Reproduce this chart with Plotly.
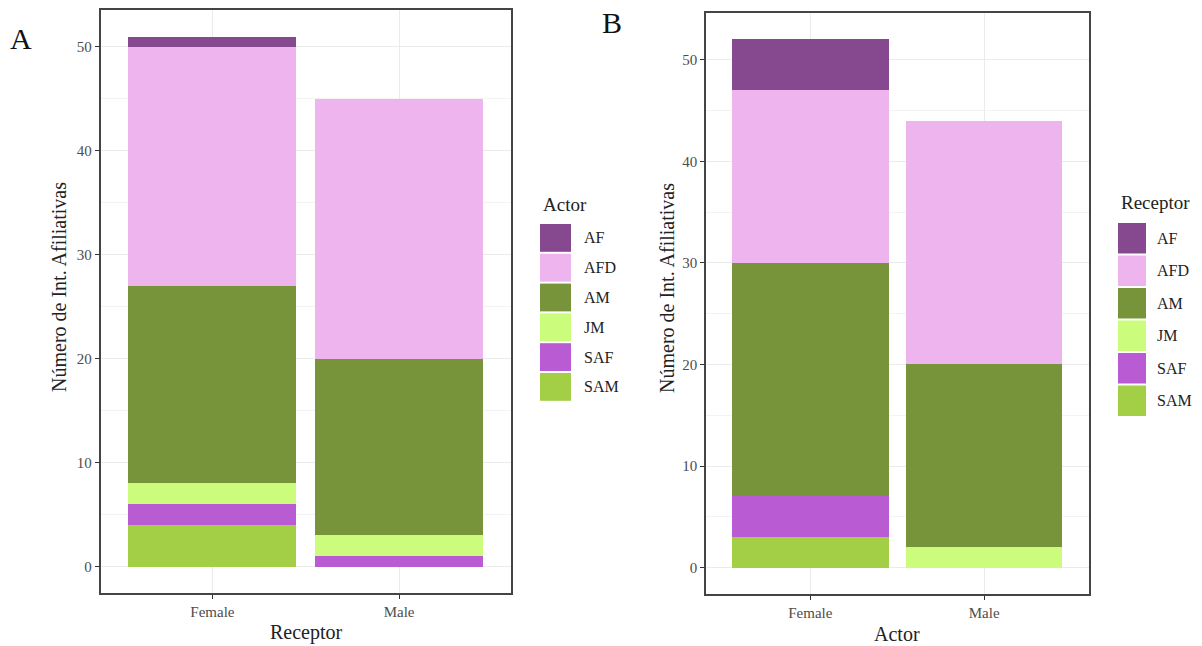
import plotly.graph_objects as go

W, H = 1202, 646

categories = ["Female", "Male"]
groups = ["AF", "AFD", "AM", "JM", "SAF", "SAM"]
colors = {"AF": "#86498f", "AFD": "#eeb4ed", "AM": "#77943a",
          "JM": "#ccfc7b", "SAF": "#b95bd2", "SAM": "#a3cf46"}

# Panel A: x = Receptor, fill = Actor
a_AF = [1, 0]
a_AFD = [23, 25]
a_AM = [19, 17]
a_JM = [2, 2]
a_SAF = [2, 1]
a_SAM = [4, 0]

# Panel B: x = Actor, fill = Receptor
b_AF = [5, 0]
b_AFD = [17, 24]
b_AM = [23, 18]
b_JM = [0, 2]
b_SAF = [4, 0]
b_SAM = [3, 0]

panelA = {"AF": a_AF, "AFD": a_AFD, "AM": a_AM, "JM": a_JM, "SAF": a_SAF, "SAM": a_SAM}
panelB = {"AF": b_AF, "AFD": b_AFD, "AM": b_AM, "JM": b_JM, "SAF": b_SAF, "SAM": b_SAM}

y_ticks = [0, 10, 20, 30, 40, 50]

FONT = "Liberation Serif"

def px_x(p):
    return p / W

def px_y(p):
    return 1 - p / H

fig = go.Figure()

stack_order = ["SAM", "SAF", "JM", "AM", "AFD", "AF"]
for g in stack_order:
    fig.add_trace(go.Bar(x=categories, y=panelA[g], name=g, marker_color=colors[g],
                         marker_line_width=0, width=0.9, showlegend=False,
                         xaxis="x", yaxis="y"))
for g in stack_order:
    fig.add_trace(go.Bar(x=categories, y=panelB[g], name=g, marker_color=colors[g],
                         marker_line_width=0, width=0.9, showlegend=False,
                         xaxis="x2", yaxis="y2"))

def yax(domain, total, anchor):
    pad = 0.05 * total
    return dict(domain=domain, range=[-pad, total + pad], anchor=anchor,
                tickvals=y_ticks, showgrid=True, gridcolor="#ebebeb", gridwidth=1,
                minor=dict(dtick=5, tick0=0, showgrid=True, gridcolor="#f3f3f3", gridwidth=0.6, ticks=""),
                zeroline=False, showline=True, mirror=True, linecolor="#444444", linewidth=1.5,
                ticks="outside", ticklen=4, tickcolor="#333", tickwidth=1,
                tickfont=dict(family=FONT, size=15, color="#4d4d4d"))

def xax(domain, anchor):
    return dict(domain=domain, range=[-0.6, 1.6], anchor=anchor, type="category",
                showgrid=True, gridcolor="#ebebeb", gridwidth=1,
                zeroline=False, showline=True, mirror=True, linecolor="#444444", linewidth=1.5,
                ticks="outside", ticklen=4, tickcolor="#333", tickwidth=1,
                tickfont=dict(family=FONT, size=15, color="#4d4d4d"))

totA = sum(panelA[g][0] for g in groups)
totB = sum(panelB[g][0] for g in groups)

fig.update_layout(
    width=W, height=H, barmode="stack", bargap=0.1,
    margin=dict(l=0, r=0, t=0, b=0),
    paper_bgcolor="white", plot_bgcolor="white",
    font=dict(family=FONT, color="#222"),
    xaxis=xax([px_x(100.5), px_x(511)], "y"),
    yaxis=yax([px_y(593), px_y(10)], totA, "x"),
    xaxis2=xax([px_x(706), px_x(1088.5)], "y2"),
    yaxis2=yax([px_y(594), px_y(13)], totB, "x2"),
)

ann = []
shapes = []
# panel letters
ann.append(dict(text="A", x=px_x(21), y=px_y(38), xref="paper", yref="paper",
                showarrow=False, font=dict(family=FONT, size=30, color="#111"),
                xanchor="center", yanchor="middle"))
ann.append(dict(text="B", x=px_x(611.5), y=px_y(23), xref="paper", yref="paper",
                showarrow=False, font=dict(family=FONT, size=30, color="#111"),
                xanchor="center", yanchor="middle"))
# axis titles
for txt, x, y in [("Receptor", 306, 632), ("Actor", 897, 634)]:
    ann.append(dict(text=txt, x=px_x(x), y=px_y(y), xref="paper", yref="paper",
                    showarrow=False, font=dict(family=FONT, size=20, color="#222"),
                    xanchor="center", yanchor="middle"))
for x, y in [(59, 287), (667, 288)]:
    ann.append(dict(text="Número de Int. Afiliativas", x=px_x(x), y=px_y(y),
                    xref="paper", yref="paper", showarrow=False, textangle=-90,
                    font=dict(family=FONT, size=20, color="#222"),
                    xanchor="center", yanchor="middle"))

# legends
legends = [
    dict(title="Actor", tx=541, ty=204, kx0=540, kx1=571, top=223, pitch=29.8, lx=582),
    dict(title="Receptor", tx=1119, ty=202, kx0=1118, kx1=1146, top=222, pitch=32.5, lx=1155),
]
for L in legends:
    ann.append(dict(text=L["title"], x=px_x(L["tx"]), y=px_y(L["ty"]), xref="paper", yref="paper",
                    showarrow=False, font=dict(family=FONT, size=19, color="#222"),
                    xanchor="left", yanchor="middle"))
    for i, g in enumerate(groups):
        y0 = L["top"] + i * L["pitch"] + 1
        y1 = L["top"] + (i + 1) * L["pitch"] - 1
        shapes.append(dict(type="rect", xref="paper", yref="paper",
                           x0=px_x(L["kx0"]), x1=px_x(L["kx1"]), y0=px_y(y1), y1=px_y(y0),
                           fillcolor=colors[g], line=dict(width=0)))
        ann.append(dict(text=g, x=px_x(L["lx"]), y=px_y((y0 + y1) / 2), xref="paper", yref="paper",
                        showarrow=False, font=dict(family=FONT, size=16, color="#222"),
                        xanchor="left", yanchor="middle"))

fig.update_layout(annotations=ann, shapes=shapes)
fig.write_html("out.html", config={"displayModeBar": False},
               post_script="document.body.style.margin='0';document.body.style.overflow='hidden';")
